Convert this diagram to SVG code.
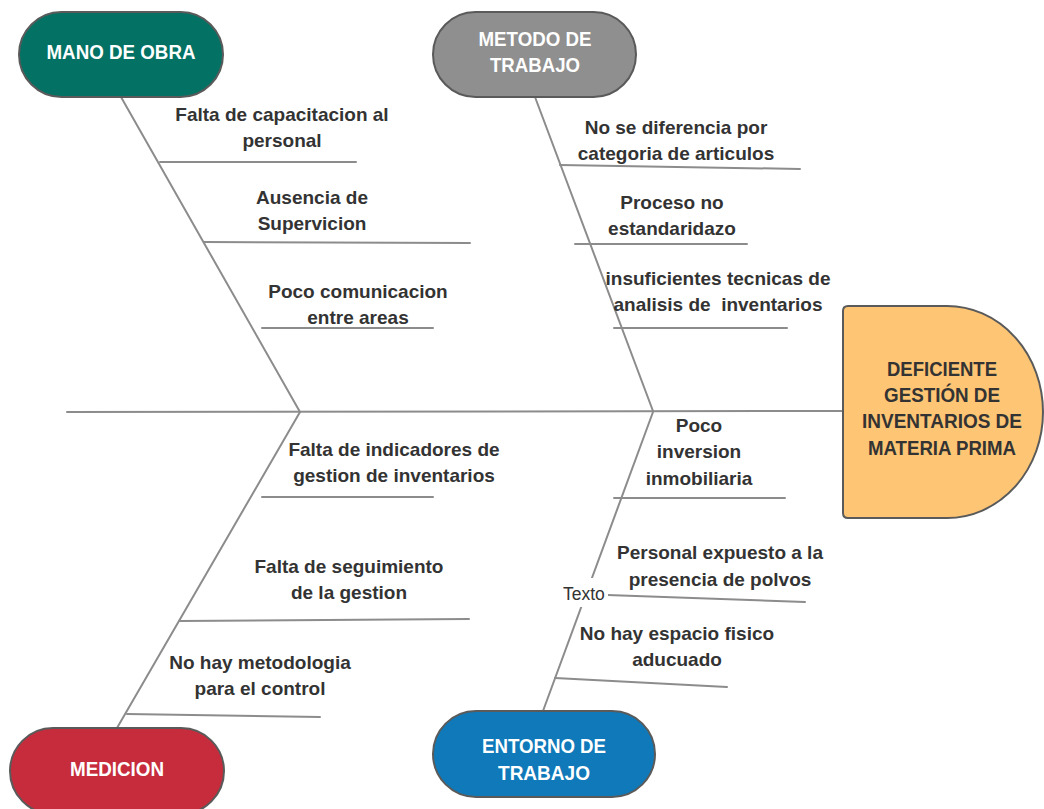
<svg xmlns="http://www.w3.org/2000/svg" width="1044" height="809" viewBox="0 0 1044 809">
  <style>
    .bone { stroke: #8c8c8c; stroke-width: 2; fill: none; stroke-linecap: round; }
    .pill { stroke: #5a5a5a; stroke-width: 2; }
    .cat { font-family: "Liberation Sans", Arial, sans-serif; font-weight: bold; font-size: 20px; fill: #ffffff; text-anchor: middle; }
    .cause { font-family: "Liberation Sans", Arial, sans-serif; font-weight: bold; font-size: 19px; fill: #333333; text-anchor: middle; }
    .head { font-family: "Liberation Sans", Arial, sans-serif; font-weight: bold; font-size: 20px; fill: #333333; text-anchor: middle; }
    .plain { font-family: "Liberation Sans", Arial, sans-serif; font-size: 17.5px; fill: #333333; }
  </style>
  <rect width="1044" height="809" fill="#ffffff"/>

  <!-- connectors: spine, category bones and cause ribs -->
  <g id="connectors">
    <line class="bone" x1="67" y1="412" x2="843" y2="411"/>
    <!-- mano de obra -->
    <line class="bone" x1="121" y1="97" x2="300" y2="412"/>
    <line class="bone" x1="160" y1="162" x2="356" y2="162"/>
    <line class="bone" x1="204" y1="242" x2="470" y2="243"/>
    <line class="bone" x1="262" y1="328" x2="433" y2="328"/>
    <!-- metodo de trabajo -->
    <line class="bone" x1="535" y1="97" x2="653" y2="411"/>
    <line class="bone" x1="560" y1="165" x2="800" y2="169"/>
    <line class="bone" x1="575" y1="244" x2="747" y2="244"/>
    <line class="bone" x1="614" y1="328" x2="787" y2="328"/>
    <!-- medicion -->
    <line class="bone" x1="300" y1="412" x2="117" y2="728"/>
    <line class="bone" x1="262" y1="497" x2="433" y2="497"/>
    <line class="bone" x1="180" y1="621" x2="469" y2="619"/>
    <line class="bone" x1="127" y1="714" x2="320" y2="717"/>
    <!-- entorno de trabajo -->
    <line class="bone" x1="653" y1="412" x2="543" y2="711"/>
    <line class="bone" x1="614" y1="498" x2="785" y2="498"/>
    <line class="bone" x1="607" y1="595" x2="805" y2="602"/>
    <line class="bone" x1="555" y1="678" x2="727" y2="687"/>
    <!-- stray label sitting on the entorno bone -->
    <rect x="560" y="578" width="48" height="29" fill="#ffffff"/>
    <text class="plain" x="563" y="600">Texto</text>
  </g>

  <g id="mano-de-obra">
    <rect class="pill" x="19" y="12" width="204" height="85" rx="42.5" fill="#037264"/>
    <text class="cat" x="121" y="59" textLength="149" lengthAdjust="spacingAndGlyphs">MANO DE OBRA</text>
  </g>
  <g id="metodo-de-trabajo">
    <rect class="pill" x="433" y="12" width="203" height="85" rx="42.5" fill="#8f8f8f"/>
    <text class="cat" x="535" y="46" textLength="113" lengthAdjust="spacingAndGlyphs">METODO DE</text>
    <text class="cat" x="535" y="72" textLength="90" lengthAdjust="spacingAndGlyphs">TRABAJO</text>
  </g>
  <g id="medicion">
    <rect class="pill" x="10" y="728" width="214" height="86" rx="43" fill="#c62c3b"/>
    <text class="cat" x="117" y="776" textLength="94" lengthAdjust="spacingAndGlyphs">MEDICION</text>
  </g>
  <g id="entorno-de-trabajo">
    <rect class="pill" x="433" y="711" width="222" height="86" rx="43" fill="#0f79b9"/>
    <text class="cat" x="544" y="753" textLength="124" lengthAdjust="spacingAndGlyphs">ENTORNO DE</text>
    <text class="cat" x="544" y="780" textLength="92" lengthAdjust="spacingAndGlyphs">TRABAJO</text>
  </g>

  <g id="efecto">
    <path class="pill" d="M848,306 H947 A96,106 0 0 1 947,518 H848 Q843,518 843,513 V311 Q843,306 848,306 Z" fill="#fec574"/>
    <text class="head" x="942" y="376" textLength="110" lengthAdjust="spacingAndGlyphs">DEFICIENTE</text>
    <text class="head" x="942" y="402" textLength="116" lengthAdjust="spacingAndGlyphs">GESTIÓN DE</text>
    <text class="head" x="942" y="428" textLength="160" lengthAdjust="spacingAndGlyphs">INVENTARIOS DE</text>
    <text class="head" x="942" y="455" textLength="148" lengthAdjust="spacingAndGlyphs">MATERIA PRIMA</text>
  </g>

  <!-- causes -->
  <g id="causa-capacitacion">
    <text class="cause" x="282" y="121">Falta de capacitacion al</text>
    <text class="cause" x="282" y="147">personal</text>
  </g>
  <g id="causa-supervicion">
    <text class="cause" x="312" y="204">Ausencia de</text>
    <text class="cause" x="312" y="230">Supervicion</text>
  </g>
  <g id="causa-comunicacion">
    <text class="cause" x="358" y="298">Poco comunicacion</text>
    <text class="cause" x="358" y="324">entre areas</text>
  </g>
  <g id="causa-categoria">
    <text class="cause" x="676" y="134">No se diferencia por</text>
    <text class="cause" x="676" y="160">categoria de articulos</text>
  </g>
  <g id="causa-proceso">
    <text class="cause" x="672" y="209">Proceso no</text>
    <text class="cause" x="672" y="235">estandaridazo</text>
  </g>
  <g id="causa-tecnicas">
    <text class="cause" x="718" y="285">insuficientes tecnicas de</text>
    <text class="cause" x="718" y="311" xml:space="preserve">analisis de  inventarios</text>
  </g>
  <g id="causa-indicadores">
    <text class="cause" x="394" y="456">Falta de indicadores de</text>
    <text class="cause" x="394" y="482">gestion de inventarios</text>
  </g>
  <g id="causa-seguimiento">
    <text class="cause" x="349" y="573">Falta de seguimiento</text>
    <text class="cause" x="349" y="599">de la gestion</text>
  </g>
  <g id="causa-metodologia">
    <text class="cause" x="260" y="669">No hay metodologia</text>
    <text class="cause" x="260" y="695">para el control</text>
  </g>
  <g id="causa-inversion">
    <text class="cause" x="699" y="432">Poco</text>
    <text class="cause" x="699" y="458">inversion</text>
    <text class="cause" x="699" y="485">inmobiliaria</text>
  </g>
  <g id="causa-polvos">
    <text class="cause" x="720" y="559">Personal expuesto a la</text>
    <text class="cause" x="720" y="586">presencia de polvos</text>
  </g>
  <g id="causa-espacio">
    <text class="cause" x="677" y="640">No hay espacio fisico</text>
    <text class="cause" x="677" y="666">aducuado</text>
  </g>
</svg>
